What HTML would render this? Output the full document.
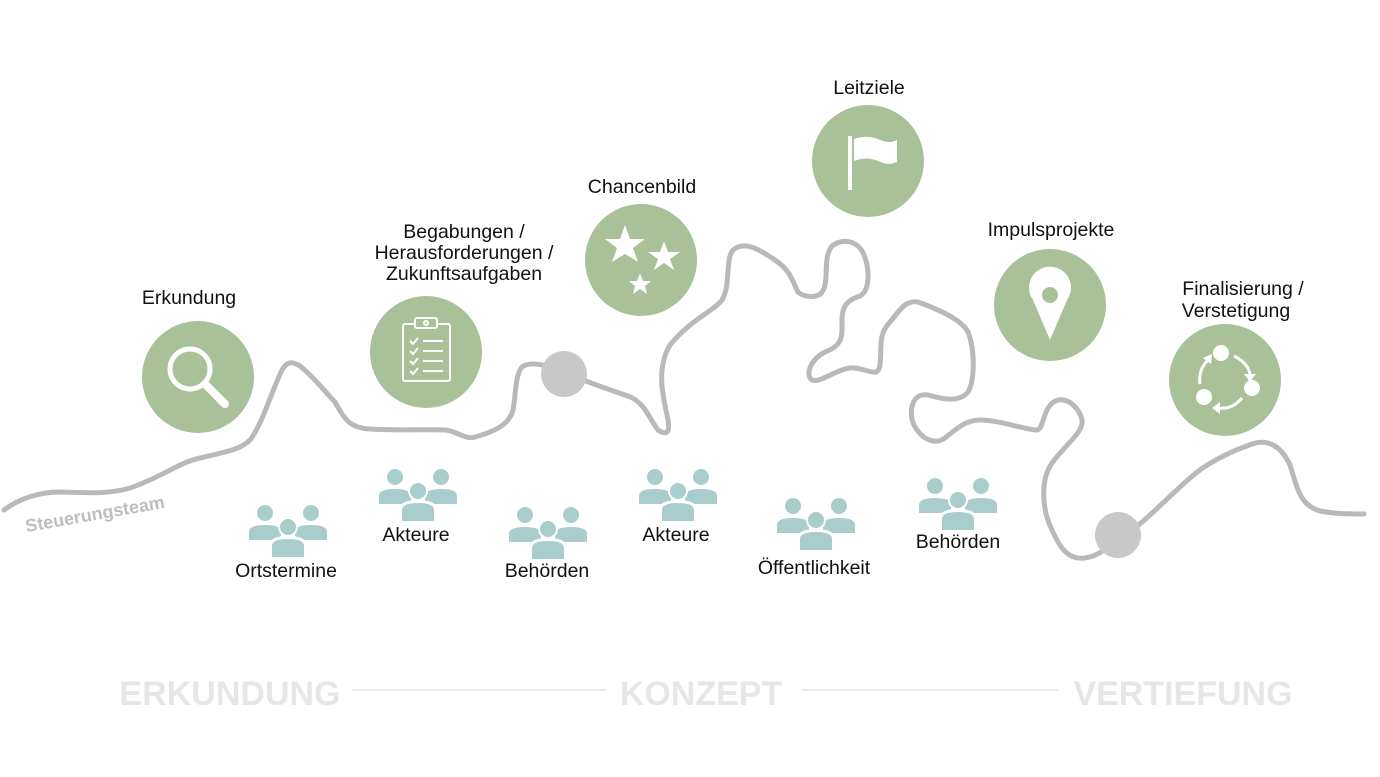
<!DOCTYPE html>
<html><head><meta charset="utf-8"><style>
html,body{margin:0;padding:0;background:#fff;}
svg{display:block;}
text{font-family:"Liberation Sans",sans-serif;}
</style></head><body>
<svg width="1380" height="777" viewBox="0 0 1380 777" xmlns="http://www.w3.org/2000/svg">
<defs>
<g id="ppl">
  <circle cx="-23" cy="-17" r="8" fill="#a9cccd"/>
  <circle cx="23" cy="-17" r="8" fill="#a9cccd"/>
  <path d="M-39 10 V2 Q-39 -5 -23 -5 Q-7 -5 -7 2 V10 Z" fill="#a9cccd"/>
  <path d="M7 10 V2 Q7 -5 23 -5 Q39 -5 39 2 V10 Z" fill="#a9cccd"/>
  <circle cx="0" cy="-3" r="10" fill="#fff"/>
  <path d="M-19 28 V16 Q-19 6 0 6 Q19 6 19 16 V28 Z" fill="#fff"/>
  <circle cx="0" cy="-3" r="8" fill="#a9cccd"/>
  <path d="M-16 27 V16 Q-16 9 0 9 Q16 9 16 16 V27 Z" fill="#a9cccd"/>
</g>
</defs>
<path fill="none" stroke="#b9b9b9" stroke-width="5" stroke-linecap="round" stroke-linejoin="round"
d="M4 510 C20 498 40 492 60 492 C90 493 110 494 130 488 C160 478 180 462 200 458 C225 452 240 450 250 440 C262 425 272 390 282 370 C288 360 293 362 300 366 C315 378 325 392 335 402 C345 420 350 428 370 429 C400 431 430 429 446 430 C458 432 466 440 475 437 C500 430 510 422 513 410 C516 395 515 375 522 367 C530 361 545 364 565 373 C585 381 610 390 628 396 C645 402 650 420 658 430 C667 436 670 432 668 420 C664 400 655 370 670 345 C690 320 715 310 722 300 C731 285 725 260 733 250 C745 240 760 250 775 260 C790 270 792 280 798 292 C805 298 818 298 822 292 C830 282 822 258 832 246 C842 238 858 240 864 255 C870 270 870 290 860 296 C848 300 842 305 842 320 C842 335 844 345 825 352 C810 360 805 375 812 380 C820 384 840 366 855 368 C870 370 878 378 880 365 C882 345 878 335 890 322 C900 310 905 300 918 302 C940 310 962 320 968 332 C975 350 975 380 968 392 C960 402 945 400 928 395 C912 392 908 412 914 425 C922 440 935 445 945 438 C955 430 965 420 980 420 C1000 420 1025 430 1037 430 C1045 428 1042 405 1058 400 C1070 398 1080 410 1082 420 C1084 432 1065 445 1052 463 C1040 480 1042 510 1052 530 C1060 548 1068 560 1085 558 C1100 556 1110 545 1125 535 C1145 522 1165 500 1190 478 C1210 460 1235 450 1252 444 C1270 438 1282 448 1290 465 C1298 490 1300 505 1320 511 C1335 514 1350 514 1364 514"/>
<circle cx="564" cy="374" r="23" fill="#c8c8c8"/>
<circle cx="1118" cy="535" r="23" fill="#c8c8c8"/>
<text x="96" y="520" transform="rotate(-10 96 520)" text-anchor="middle" font-size="18" font-weight="bold" fill="#bdbdbd">Steuerungsteam</text>

<g fill="#a8c198">
<circle cx="198" cy="377" r="56"/>
<circle cx="426" cy="352" r="56"/>
<circle cx="641" cy="260" r="56"/>
<circle cx="868" cy="161" r="56"/>
<circle cx="1050" cy="305" r="56"/>
<circle cx="1225" cy="380" r="56"/>
</g>
<circle cx="190" cy="369" r="20" fill="none" stroke="#fff" stroke-width="5"/>
<line x1="205" y1="384" x2="225" y2="404" stroke="#fff" stroke-width="8" stroke-linecap="round"/>
<g fill="none" stroke="#fff" stroke-width="2">
<rect x="403" y="324" width="47" height="57" rx="2"/>
<rect x="415" y="318" width="22" height="10" rx="2" fill="#a8c198"/>
<circle cx="426" cy="323" r="2"/>
<path d="M410 341 l3 3 l5 -6 M410 351 l3 3 l5 -6 M410 361 l3 3 l5 -6 M410 371 l3 3 l5 -6"/>
<path d="M423 341 h20 M423 351 h20 M423 361 h20 M423 371 h20"/>
</g>
<g fill="#fff">
<polygon points="625,225 630,239 645,239 633,248 638,262 625,254 612,262 617,248 605,239 620,239"/>
<polygon points="664,241 668,252 680,252 670,259 674,270 664,263 654,270 658,259 648,252 660,252"/>
<polygon points="640,273 643,281 651,281 645,286 647,294 640,289 633,294 635,286 629,281 637,281"/>
</g>
<rect x="848" y="136" width="4" height="54" fill="#fff"/>
<path d="M854 139 Q868 134 880 140 Q890 144 897 140 V162 Q888 166 878 161 Q866 156 854 161 Z" fill="#fff"/>
<path d="M1050 340 L1033 300 A21 21 0 1 1 1067 300 Z" fill="#fff"/>
<circle cx="1050" cy="295" r="8" fill="#a8c198"/>
<g fill="#fff">
<circle cx="1221" cy="353" r="8"/><circle cx="1252" cy="388" r="8"/><circle cx="1204" cy="397" r="8"/>
</g>
<g fill="none" stroke="#fff" stroke-width="3">
<path d="M1234 356 Q1248 363 1250 374"/><path d="M1242 398 Q1232 410 1218 408"/><path d="M1200 384 Q1198 370 1208 360"/>
</g>
<g fill="#fff">
<polygon points="1244,374 1256,374 1250,382"/><polygon points="1220,402 1220,414 1212,408"/><polygon points="1203,358 1212,354 1211,364"/>
</g>

<g font-size="19.5" fill="#111" text-anchor="middle">
<text x="189" y="304">Erkundung</text>
<text x="464" y="238">Begabungen /</text>
<text x="464" y="259">Herausforderungen /</text>
<text x="464" y="280">Zukunftsaufgaben</text>
<text x="642" y="193">Chancenbild</text>
<text x="869" y="94">Leitziele</text>
<text x="1051" y="236">Impulsprojekte</text>
<text x="1243" y="295">Finalisierung /</text>
<text x="1236" y="317">Verstetigung</text>
<text x="286" y="577">Ortstermine</text>
<text x="416" y="541">Akteure</text>
<text x="547" y="577">Behörden</text>
<text x="676" y="541">Akteure</text>
<text x="814" y="574">Öffentlichkeit</text>
<text x="958" y="548">Behörden</text>
</g>
<use href="#ppl" x="288" y="530"/>
<use href="#ppl" x="418" y="494"/>
<use href="#ppl" x="548" y="532"/>
<use href="#ppl" x="678" y="494"/>
<use href="#ppl" x="816" y="523"/>
<use href="#ppl" x="958" y="503"/>

<g font-size="34" font-weight="bold" fill="#e6e6e6" text-anchor="middle">
<text x="230" y="705">ERKUNDUNG</text>
<text x="701" y="705">KONZEPT</text>
<text x="1183" y="705">VERTIEFUNG</text>
</g>
<line x1="352" y1="690" x2="606" y2="690" stroke="#e6e6e6" stroke-width="1.5"/>
<line x1="802" y1="690" x2="1058" y2="690" stroke="#e6e6e6" stroke-width="1.5"/>
</svg>
</body></html>
